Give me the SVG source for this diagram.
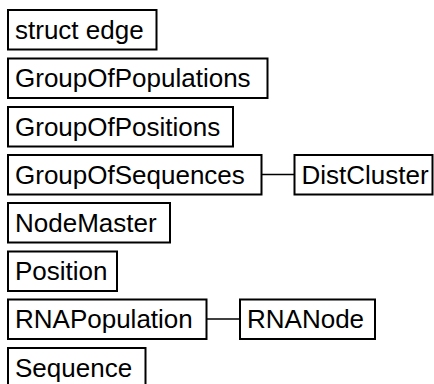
<svg xmlns="http://www.w3.org/2000/svg" width="434" height="384" viewBox="0 0 434 384">
<style>
.n rect{fill:#fff;stroke:#000;stroke-width:2}
.n text{font-family:"Liberation Sans",Arial,sans-serif;font-size:26px;fill:#000}
.e line{stroke:#000;stroke-width:1.5}
</style>
<rect width="434" height="384" fill="#fff"/>
<g class="e" id="edges">
<line x1="261.5" y1="174.5" x2="294.5" y2="174.5"/>
<line x1="206.5" y1="319" x2="240" y2="319"/>
</g>
<g class="n" id="struct_edge"><rect x="8" y="10" width="148.5" height="39.5"/><text x="15" y="38.5">struct edge</text></g>
<g class="n" id="GroupOfPopulations"><rect x="8" y="58.5" width="259.5" height="39.5"/><text x="15" y="87">GroupOfPopulations</text></g>
<g class="n" id="GroupOfPositions"><rect x="8" y="107" width="225" height="39.5"/><text x="15" y="135.5">GroupOfPositions</text></g>
<g class="n" id="GroupOfSequences"><rect x="8" y="155" width="253.5" height="39.5"/><text x="15" y="183.5">GroupOfSequences</text></g>
<g class="n" id="DistCluster"><rect x="294.5" y="155" width="138" height="39.5"/><text x="301.5" y="183.5">DistCluster</text></g>
<g class="n" id="NodeMaster"><rect x="8" y="203" width="162" height="39.5"/><text x="15" y="231.5">NodeMaster</text></g>
<g class="n" id="Position"><rect x="8" y="251.5" width="109" height="39.5"/><text x="15" y="280">Position</text></g>
<g class="n" id="RNAPopulation"><rect x="8" y="299.5" width="198.5" height="39.5"/><text x="15" y="328">RNAPopulation</text></g>
<g class="n" id="RNANode"><rect x="240" y="299.5" width="135" height="39.5"/><text x="247" y="328">RNANode</text></g>
<g class="n" id="Sequence"><rect x="8" y="348" width="137.5" height="39.5"/><text x="15" y="376.5">Sequence</text></g>
</svg>
